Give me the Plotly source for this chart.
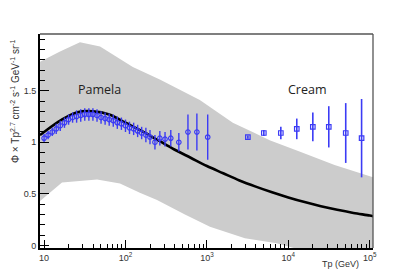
import plotly.graph_objects as go

# ---- data ----
band_e_up = [8.93, 15.7, 27.6, 48.7, 123, 264, 818, 2080, 3640, 5900, 13700, 37000, 109600]
band_up = [1.78, 1.88, 1.97, 1.93, 1.73, 1.61, 1.41, 1.19, 1.10, 1.02, 0.91, 0.78, 0.66]
band_e_lo = [8.93, 16.6, 44.7, 85.6, 150, 244, 537, 1090, 2930, 7200, 13700, 109600]
band_lo = [0.43, 0.61, 0.64, 0.60, 0.51, 0.44, 0.30, 0.18, 0.07, 0.02, -0.04, -0.2]

model_e = [8.9, 10, 15.8, 25.1, 39.8, 63.1, 100, 158, 251, 398, 631, 1000, 1585, 2512,
           3981, 6310, 10000, 15850, 25120, 39810, 63100, 100000, 110000]
model_v = [1.07, 1.10, 1.21, 1.29, 1.30, 1.27, 1.19, 1.11, 1.02, 0.93, 0.85, 0.77, 0.70, 0.63,
           0.57, 0.515, 0.465, 0.42, 0.38, 0.345, 0.315, 0.29, 0.283]

pamela_e = [10.0, 11.2, 12.6, 14.1, 15.8, 17.8, 20.0, 22.4, 25.1, 28.2, 31.6, 35.5, 39.8, 44.7,
            50.1, 56.2, 63.1, 70.8, 79.4, 89.1, 100, 112, 126, 141, 158, 178, 200,
            230, 264, 306, 360, 452, 585, 753, 1023]
pamela_v = [1.04, 1.07, 1.10, 1.13, 1.16, 1.19, 1.22, 1.24, 1.25, 1.26, 1.27, 1.27, 1.27, 1.26,
            1.24, 1.23, 1.22, 1.21, 1.19, 1.18, 1.16, 1.14, 1.13, 1.11, 1.09, 1.07, 1.05,
            1.00, 1.04, 1.03, 1.04, 1.00, 1.10, 1.10, 1.05]
pamela_err = [0.04, 0.04, 0.04, 0.05, 0.05, 0.05, 0.05, 0.05, 0.06, 0.06, 0.06, 0.06, 0.06, 0.06,
              0.06, 0.06, 0.06, 0.06, 0.06, 0.06, 0.06, 0.06, 0.06, 0.06, 0.06, 0.07, 0.07,
              0.07, 0.07, 0.07, 0.08, 0.09, 0.17, 0.18, 0.22]

cream_e = [3185, 5000, 8090, 12700, 20000, 31400, 50700, 79400]
cream_v = [1.05, 1.09, 1.09, 1.13, 1.15, 1.15, 1.09, 1.04]
cream_err = [0.015, 0.03, 0.06, 0.10, 0.14, 0.20, 0.29, 0.38]

x_tick_vals = [10, 100, 1000, 10000, 100000]
x_tick_text = ["10", "10<sup>2</sup>", "10<sup>3</sup>", "10<sup>4</sup>", "10<sup>5</sup>"]
y_tick_vals = [0, 0.5, 1, 1.5]
y_tick_text = ["0", "0.5", "1", "1.5"]

BLUE = "#3b3bf5"
FONT = "Liberation Sans, Arial, sans-serif"

fig = go.Figure()

fig.add_trace(go.Scatter(
    x=band_e_up + band_e_lo[::-1], y=band_up + band_lo[::-1],
    fill="toself", fillcolor="#cccccc", line=dict(width=0), mode="lines",
    hoverinfo="skip", showlegend=False))

fig.add_trace(go.Scatter(
    x=model_e, y=model_v, mode="lines", line=dict(color="black", width=2.6, shape="spline"),
    showlegend=False))

fig.add_trace(go.Scatter(
    x=pamela_e, y=pamela_v, mode="markers",
    marker=dict(symbol="circle-open", size=4.5, color=BLUE, line=dict(width=1.2, color=BLUE)),
    error_y=dict(type="data", array=pamela_err, color=BLUE, thickness=1.4, width=0),
    showlegend=False))

fig.add_trace(go.Scatter(
    x=cream_e, y=cream_v, mode="markers",
    marker=dict(symbol="square-open", size=4.5, color=BLUE, line=dict(width=1.2, color=BLUE)),
    error_y=dict(type="data", array=cream_err, color=BLUE, thickness=1.6, width=0),
    showlegend=False))

minor_x = [m * 10 ** k for k in range(1, 5) for m in range(2, 10)]

fig.update_xaxes(
    type="log", range=[0.95, 5.04],
    tickvals=x_tick_vals, ticktext=x_tick_text,
    ticks="inside", ticklen=8, tickwidth=1, tickcolor="black",
    minor=dict(tickvals=minor_x, ticks="inside", ticklen=4, tickwidth=1, tickcolor="black"),
    showline=True, linecolor="black", linewidth=2, mirror=False,
    showgrid=False, zeroline=False, automargin=False,
    tickfont=dict(family=FONT, size=9, color="#333"))

fig.update_yaxes(
    range=[-0.025, 2.05],
    tickvals=y_tick_vals, ticktext=y_tick_text,
    ticks="inside", ticklen=9, tickwidth=1, tickcolor="black",
    minor=dict(dtick=0.1, tick0=0, ticks="inside", ticklen=5, tickwidth=1, tickcolor="black"),
    showline=True, linecolor="black", linewidth=2, mirror=False,
    showgrid=False, zeroline=False, automargin=False,
    tickfont=dict(family=FONT, size=9, color="#333"))

fig.add_shape(type="line", xref="paper", yref="paper", x0=0, x1=1, y0=1, y1=1,
              line=dict(color="#555", width=1.3))
fig.add_shape(type="line", xref="paper", yref="paper", x0=1, x1=1, y0=0, y1=1,
              line=dict(color="#555", width=1.3))

fig.add_annotation(text="Pamela", x=(99.5 - 40) / 333, y=(248 - 89.5) / 214,
                   xref="paper", yref="paper", xanchor="center", yanchor="middle",
                   showarrow=False,
                   font=dict(family="Open Sans, sans-serif", size=12.5, color="#222"))
fig.add_annotation(text="Cream", x=(307.5 - 40) / 333, y=(248 - 89) / 214,
                   xref="paper", yref="paper", xanchor="center", yanchor="middle",
                   showarrow=False,
                   font=dict(family="Open Sans, sans-serif", size=12.5, color="#222"))

fig.add_annotation(text="Φ × Tp<sup>2.7</sup> cm<sup>-2</sup> s<sup>-1</sup> GeV<sup>-1</sup> sr<sup>-1</sup>",
                   textangle=-90, x=(15 - 40) / 333, y=(248 - 37) / 214,
                   xref="paper", yref="paper", xanchor="center", yanchor="top", showarrow=False,
                   font=dict(family=FONT, size=10, color="#333"))
fig.add_annotation(text="Tp (GeV)", x=(361 - 40) / 333, y=(248 - 264) / 214,
                   xref="paper", yref="paper", xanchor="right", yanchor="middle", showarrow=False,
                   font=dict(family=FONT, size=9, color="#333"))

fig.update_layout(
    width=416, height=277,
    margin=dict(l=40, r=43, t=34, b=29),
    paper_bgcolor="white", plot_bgcolor="white",
    showlegend=False)

fig.write_html("out.html", config={"displayModeBar": False},
               post_script="document.body.style.margin='0';")
